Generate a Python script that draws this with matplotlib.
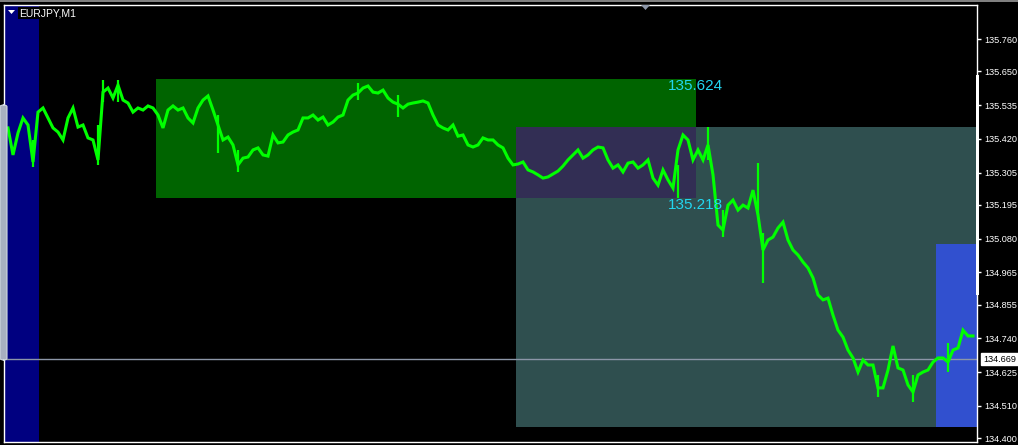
import matplotlib
matplotlib.use("Agg")
import matplotlib.pyplot as plt
from matplotlib.patches import Rectangle, Polygon, FancyBboxPatch

plt.rcParams["font.family"] = ["Liberation Sans", "DejaVu Sans"]

# ---------------- data ----------------
symbol_label = "EURJPY,M1"
close_prices = [
    135.457, 135.365, 135.440, 135.491, 135.467, 135.341, 135.511, 135.525, 135.491, 135.457,
    135.443, 135.416, 135.491, 135.525, 135.460, 135.467, 135.423, 135.416, 135.348, 135.579,
    135.593, 135.559, 135.603, 135.552, 135.542, 135.511, 135.525, 135.518, 135.532, 135.525,
    135.501, 135.457, 135.518, 135.532, 135.518, 135.525, 135.491, 135.474, 135.525, 135.552,
    135.566, 135.518, 135.467, 135.416, 135.426, 135.399, 135.331, 135.354, 135.358, 135.382,
    135.389, 135.365, 135.361, 135.433, 135.406, 135.409, 135.433, 135.443, 135.450, 135.491,
    135.491, 135.501, 135.484, 135.494, 135.467, 135.477, 135.494, 135.501, 135.552, 135.569,
    135.576, 135.593, 135.600, 135.579, 135.576, 135.586, 135.559, 135.545, 135.538, 135.525,
    135.538, 135.542, 135.545, 135.549, 135.542, 135.501, 135.467, 135.457, 135.450, 135.467,
    135.429, 135.433, 135.399, 135.392, 135.399, 135.423, 135.416, 135.416, 135.399, 135.389,
    135.354, 135.331, 135.334, 135.341, 135.314, 135.307, 135.297, 135.286, 135.290, 135.300,
    135.310, 135.327, 135.348, 135.365, 135.382, 135.354, 135.365, 135.382, 135.392, 135.389,
    135.348, 135.320, 135.331, 135.307, 135.337, 135.341, 135.320, 135.331, 135.348, 135.286,
    135.262, 135.314, 135.280, 135.252, 135.382, 135.433, 135.416, 135.348, 135.382, 135.348,
    135.399, 135.297, 135.126, 135.109, 135.194, 135.211, 135.177, 135.194, 135.184, 135.245,
    135.160, 135.041, 135.075, 135.085, 135.116, 135.136, 135.075, 135.041, 135.024, 135.000,
    134.980, 134.946, 134.888, 134.871, 134.877, 134.819, 134.768, 134.744, 134.700, 134.673,
    134.625, 134.666, 134.649, 134.649, 134.571, 134.571, 134.632, 134.714, 134.639, 134.632,
    134.581, 134.557, 134.615, 134.625, 134.632, 134.659, 134.673, 134.673, 134.659, 134.700,
    134.707, 134.768, 134.748, 134.748,
]
bar_index = list(range(len(close_prices)))

# notable high-low spikes
spike_index = [5, 18, 19, 22, 42, 46, 70, 78, 134, 140, 143, 150, 151, 174, 181, 188]
spike_high = [135.416, 135.467, 135.620, 135.620, 135.501, 135.382, 135.610, 135.569,
              135.331, 135.460, 135.177, 135.337, 135.099, 134.615, 134.615, 134.724]
spike_low = [135.324, 135.331, 135.545, 135.545, 135.371, 135.307, 135.552, 135.494,
             135.218, 135.348, 135.085, 135.160, 134.929, 134.540, 134.523, 134.625]

tick_prices = [135.760, 135.650, 135.535, 135.420, 135.305, 135.195, 135.080,
               134.965, 134.855, 134.740, 134.625, 134.510, 134.400]
tick_labels = ["%.3f" % p for p in tick_prices]

current_price = 134.669
level_high = 135.624
level_low = 135.218

# rectangles: (bar_start, bar_end, price_low, price_high)
rect_session1 = (-0.8, 6.2, 134.30, 136.00)          # navy
rect_range = (29.6, 137.6, level_low, level_high)     # green
rect_slate = (101.6, 200.0, 134.438, 135.460)         # slate
rect_overlap = (101.6, 137.6, level_low, 135.460)     # overlap
rect_session2 = (185.6, 200.0, 134.438, 135.061)      # royal blue

# ---------------- figure ----------------
W, H = 1018, 445
fig = plt.figure(figsize=(W / 100, H / 100), dpi=100, facecolor="black")
ax = fig.add_axes([4 / W, 3 / H, 973 / W, 437 / H])
ax.set_facecolor("black")
ax.set_xlim(-0.8, 193.8)
ax.set_ylim(134.3866, 135.876)

def add_rect(r, color, z):
    x0, x1, y0, y1 = r
    ax.add_patch(Rectangle((x0, y0), x1 - x0, y1 - y0, facecolor=color,
                           edgecolor="none", zorder=z))

add_rect(rect_session1, "#000080", 1)
add_rect(rect_range, "#006400", 1)
add_rect(rect_slate, "#2F4F4F", 1)
add_rect(rect_overlap, "#322E54", 1.5)
add_rect(rect_session2, "#3150CF", 1.6)

ax.axhline(current_price, color="#8C96A8", lw=1.0, zorder=2)

ax.plot(bar_index, close_prices, color="#00FF00", lw=2.2, zorder=3,
        solid_joinstyle="miter")
ax.vlines(spike_index, spike_low, spike_high, color="#00FF00", lw=1.6, zorder=3)

txt_color = "#22D6F0"
ax.text(132.0, level_high, "%.3f" % level_high, color=txt_color, fontsize=11,
        va="top", ha="left", zorder=4)
ax.text(132.0, level_low, "%.3f" % level_low, color=txt_color, fontsize=11,
        va="top", ha="left", zorder=4)

# axis styling
ax.yaxis.tick_right()
ax.set_yticks(tick_prices)
ax.set_yticklabels(tick_labels)
ax.tick_params(axis="y", colors="white", labelcolor="white", labelsize=6.6,
               length=3, width=1, pad=2.5, direction="out")
ax.set_xticks([])
for s in ax.spines.values():
    s.set_color("white")
    s.set_linewidth(1.0)

# current price label box on the axis
ax.annotate("%.3f" % current_price, xy=(1.0, current_price),
            xycoords=("axes fraction", "data"), xytext=(4.5, 0),
            textcoords="offset points", va="center", ha="left",
            fontsize=6.6, color="black",
            bbox=dict(boxstyle="square,pad=0.2", fc="white", ec="white"),
            annotation_clip=False, zorder=6)

# symbol label top-left
fig.text(19 / W, 1 - 13 / H, symbol_label, color="white", fontsize=7.5,
         va="center", ha="left",
         bbox=dict(boxstyle="square,pad=0.1", fc="black", ec="none"))
fig.patches.append(Polygon([(8 / W, 1 - 10 / H), (15 / W, 1 - 10 / H),
                            (11.5 / W, 1 - 14 / H)], closed=True,
                           transform=fig.transFigure, fc="white", ec="none"))

# window decorations
fig.patches.append(Rectangle((0, 1 - 2 / H), 1, 2 / H, transform=fig.transFigure,
                             fc="#808080", ec="none"))
fig.patches.append(Polygon([(641 / W, 1 - 5 / H), (650 / W, 1 - 5 / H),
                            (645.5 / W, 1 - 10 / H)], closed=True,
                           transform=fig.transFigure, fc="#8C96A8", ec="none"))
fig.patches.append(Rectangle((976 / W, 1 - 295 / H), 3 / W, 220 / H,
                             transform=fig.transFigure, fc="white", ec="none",
                             zorder=5))
fig.patches.append(FancyBboxPatch((0, 1 - 360 / H), 7 / W, 255 / H,
                                  boxstyle="round,pad=0,rounding_size=0.004",
                                  transform=fig.transFigure, fc="#A8B0C0",
                                  ec="#D0D8E0", lw=0.8, zorder=5))

fig.savefig("out.png", dpi=100, facecolor="black")
